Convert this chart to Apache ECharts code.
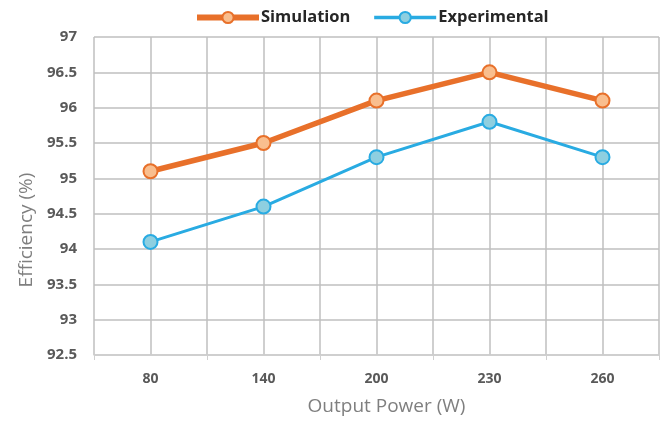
<!DOCTYPE html>
<html>
<head>
<meta charset="utf-8">
<script src="https://cdn.jsdelivr.net/npm/echarts@6/dist/echarts.min.js"></script>
<style>
  html, body { margin: 0; padding: 0; background: #fff; }
  #chart { width: 662px; height: 422px; }
</style>
</head>
<body>
<div id="chart"></div>
<script>
// Output power levels (W) and measured / simulated efficiency (%)
const categories = ['80', '140', '200', '230', '260'];
const simulation = [95.1, 95.5, 96.1, 96.5, 96.1];
const experimental = [94.1, 94.6, 95.3, 95.8, 95.3];
const yMin = 92.5, yMax = 97, yStep = 0.5;

// Half-step columns so vertical grid lines fall on and between categories
const halfSlots = categories.flatMap(c => [c + 'a', c + 'b']);

const font = 'Open Sans';
const chart = echarts.init(document.getElementById('chart'));
chart.setOption({
  animation: false,
  textStyle: { fontFamily: font },
  legend: {
    top: 4,
    left: 189,
    itemWidth: 62,
    itemHeight: 14,
    itemGap: 22,
    textStyle: { fontFamily: font, fontSize: 16.5, fontWeight: 'bold', color: '#262626', padding: [0, 0, 0, -3] },
    data: [
      { name: 'Simulation', lineStyle: { width: 6 } },
      { name: 'Experimental', lineStyle: { width: 3.5 } }
    ]
  },
  grid: { left: 94, right: 3, top: 37, bottom: 67, containLabel: false },
  xAxis: [
    {
      type: 'category',
      data: categories,
      boundaryGap: true,
      name: 'Output Power (W)',
      nameLocation: 'middle',
      nameGap: 42,
      nameTextStyle: { fontSize: 19, color: '#7f7f7f', padding: [0, 0, 0, 20] },
      axisLine: { lineStyle: { color: '#d0d0d0', width: 1.5 } },
      axisTick: { show: true, length: 5, lineStyle: { color: '#d0d0d0' } },
      axisLabel: { fontSize: 14, fontWeight: 'bold', color: '#595959', margin: 17 },
      splitLine: { show: false }
    },
    {
      type: 'category',
      data: halfSlots,
      boundaryGap: true,
      position: 'bottom',
      axisLine: { show: false },
      axisTick: { show: false },
      axisLabel: { show: false },
      splitLine: { show: true, interval: 0, lineStyle: { color: '#bfbfbf', width: 1.5 } }
    }
  ],
  yAxis: {
    type: 'value',
    min: yMin,
    max: yMax,
    interval: yStep,
    name: 'Efficiency (%)',
    nameLocation: 'middle',
    nameGap: 58,
    nameTextStyle: { fontSize: 19, color: '#7f7f7f', padding: [0, 68, 0, 0] },
    axisLine: { show: false },
    axisTick: { show: false },
    axisLabel: { fontSize: 15, fontWeight: 'bold', color: '#595959', margin: 17 },
    splitLine: { show: true, lineStyle: { color: '#bfbfbf', width: 1.5 } }
  },
  series: [
    {
      name: 'Simulation',
      type: 'line',
      xAxisIndex: 0,
      data: simulation,
      symbol: 'circle',
      symbolSize: 14,
      lineStyle: { color: '#e8702a', width: 5.5 },
      itemStyle: { color: '#f9be8e', borderColor: '#e8702a', borderWidth: 2 },
      z: 3
    },
    {
      name: 'Experimental',
      type: 'line',
      xAxisIndex: 0,
      data: experimental,
      symbol: 'circle',
      symbolSize: 14,
      lineStyle: { color: '#29abe2', width: 3 },
      itemStyle: { color: '#8ecfe0', borderColor: '#29abe2', borderWidth: 2 },
      z: 2
    }
  ]
});
</script>
</body>
</html>
